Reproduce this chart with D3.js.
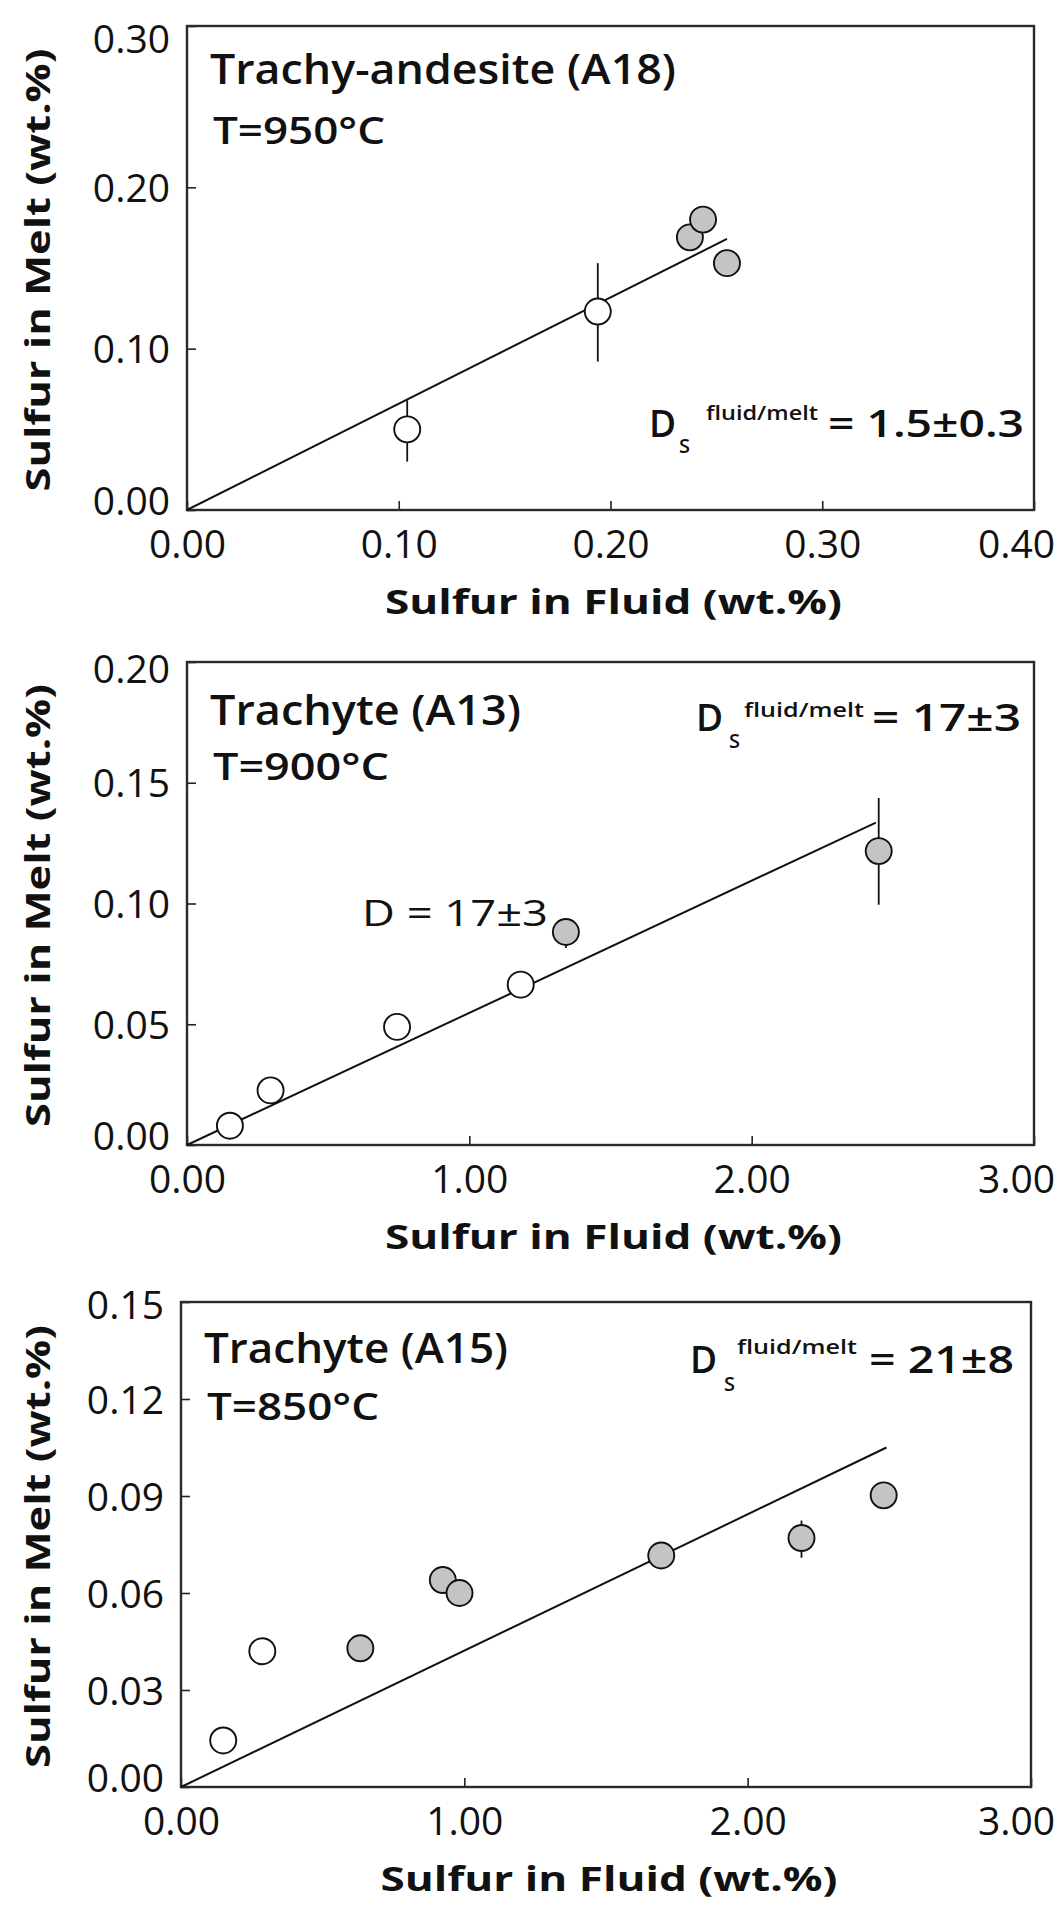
<!DOCTYPE html>
<html><head><meta charset="utf-8">
<script src="https://cdn.jsdelivr.net/npm/d3@7"></script>
<style>body{margin:0;background:#fff}svg{display:block}</style>
</head><body><svg id="c" width="1060" height="1909"></svg>
<script>
// ---------- DATA ----------
// Panel A18 (Trachy-andesite, 950 C)
const a18Fluid   = [0.104, 0.194, 0.2375, 0.2437, 0.255];
const a18Melt    = [0.050, 0.123, 0.169, 0.180, 0.153];
const a18Kind    = ["open","open","gray","gray","gray"];
const a18ErrLow  = [0.030, 0.092, null, null, null];
const a18ErrHigh = [0.068, 0.153, null, null, null];
const a18FitX    = [0, 0.255];
const a18FitY    = [0, 0.168];
const a18XTicks  = [0, 0.1, 0.2, 0.3, 0.4];
const a18XLabels = ["0.00","0.10","0.20","0.30","0.40"];
const a18YTicks  = [0, 0.1, 0.2, 0.3];
const a18YLabels = ["0.00","0.10","0.20","0.30"];

// Panel A13 (Trachyte, 900 C)
const a13Fluid   = [0.152, 0.296, 0.744, 1.182, 1.342, 2.45];
const a13Melt    = [0.008, 0.0226, 0.0489, 0.0664, 0.0882, 0.1217];
const a13Kind    = ["open","open","open","open","gray","gray"];
const a13ErrLow  = [null, null, null, null, 0.0816, 0.0995];
const a13ErrHigh = [null, null, null, null, 0.0913, 0.1437];
const a13FitX    = [0, 2.44];
const a13FitY    = [0, 0.1335];
const a13XTicks  = [0, 1, 2, 3];
const a13XLabels = ["0.00","1.00","2.00","3.00"];
const a13YTicks  = [0, 0.05, 0.10, 0.15, 0.20];
const a13YLabels = ["0.00","0.05","0.10","0.15","0.20"];

// Panel A15 (Trachyte, 850 C)
const a15Fluid   = [0.149, 0.287, 0.633, 0.924, 0.983, 1.695, 2.19, 2.48];
const a15Melt    = [0.0144, 0.0420, 0.0429, 0.0640, 0.0600, 0.0716, 0.0770, 0.0902];
const a15Kind    = ["open","open","gray","gray","gray","gray","gray","gray"];
const a15ErrLow  = [null, null, null, null, null, null, 0.0709, null];
const a15ErrHigh = [null, null, null, null, null, null, 0.0824, null];
const a15FitX    = [0, 2.49];
const a15FitY    = [0, 0.105];
const a15XTicks  = [0, 1, 2, 3];
const a15XLabels = ["0.00","1.00","2.00","3.00"];
const a15YTicks  = [0, 0.03, 0.06, 0.09, 0.12, 0.15];
const a15YLabels = ["0.00","0.03","0.06","0.09","0.12","0.15"];

const xTitle = "Sulfur in Fluid (wt.%)";
const yTitle = "Sulfur in Melt (wt.%)";
const panelNames  = ["Trachy-andesite (A18)", "Trachyte (A13)", "Trachyte (A15)"];
const panelTemps  = ["T=950°C", "T=900°C", "T=850°C"];
const dValues     = ["= 1.5±0.3", "= 17±3", "= 21±8"];
const noteText    = "D = 17±3";

// ---------- LAYOUT ----------
const FONT = "'Open Sans', 'Noto Sans', sans-serif";
const svg = d3.select("#c");

const panels = [
  { box:{l:187, r:1034, t:26, b:510}, xMax:0.4, yMax:0.3,
    fluid:a18Fluid, melt:a18Melt, kind:a18Kind, lo:a18ErrLow, hi:a18ErrHigh,
    fitX:a18FitX, fitY:a18FitY, xt:a18XTicks, xl:a18XLabels, yt:a18YTicks, yl:a18YLabels,
    topLblOff:12, nameOff:58, nameW:466, tempW:172,
    d:{dx:649, base:437, subx:679, subBase:453, supx:706, supBase:420, supW:112, eqx:828, eqW:196} },
  { box:{l:187, r:1034, t:662, b:1145}, xMax:3, yMax:0.2,
    fluid:a13Fluid, melt:a13Melt, kind:a13Kind, lo:a13ErrLow, hi:a13ErrHigh,
    fitX:a13FitX, fitY:a13FitY, xt:a13XTicks, xl:a13XLabels, yt:a13YTicks, yl:a13YLabels,
    topLblOff:6, nameOff:63, nameW:311, tempW:176,
    d:{dx:696, base:731, subx:729, subBase:748, supx:744, supBase:717, supW:120, eqx:872, eqW:149},
    note:{x:362, base:926, w:186} },
  { box:{l:181, r:1031, t:1302, b:1787}, xMax:3, yMax:0.15,
    fluid:a15Fluid, melt:a15Melt, kind:a15Kind, lo:a15ErrLow, hi:a15ErrHigh,
    fitX:a15FitX, fitY:a15FitY, xt:a15XTicks, xl:a15XLabels, yt:a15YTicks, yl:a15YLabels,
    topLblOff:2, nameOff:61, nameW:304, tempW:172,
    d:{dx:690, base:1373, subx:724, subBase:1391, supx:737, supBase:1354, supW:120, eqx:869, eqW:145} }
];

panels.forEach((p, i) => {
  const B = p.box;
  const x = d3.scaleLinear().domain([0, p.xMax]).range([B.l, B.r]);
  const y = d3.scaleLinear().domain([0, p.yMax]).range([B.b, B.t]);
  const g = svg.append("g");

  // x axis (inward ticks)
  const xa = g.append("g").attr("transform", `translate(0,${B.b})`)
    .call(d3.axisBottom(x).tickValues(p.xt).tickFormat((d,k)=>p.xl[k])
      .tickSizeInner(-9).tickSizeOuter(0).tickPadding(0));
  xa.select(".domain").remove();
  xa.selectAll("line").attr("stroke","#222").attr("stroke-width",1.6);
  xa.selectAll("text").attr("font-family",FONT).attr("font-size",39).attr("fill","#111")
    .attr("dy",null).attr("y",48)
    .attr("transform", function(d){ const cx = x(d); const c = Math.min(cx, 1016); return `translate(${c-cx},0)`; });

  // y axis (inward ticks)
  const ya = g.append("g").attr("transform", `translate(${B.l},0)`)
    .call(d3.axisLeft(y).tickValues(p.yt).tickFormat((d,k)=>p.yl[k])
      .tickSizeInner(-9).tickSizeOuter(0).tickPadding(17));
  ya.select(".domain").remove();
  ya.selectAll("line").attr("stroke","#222").attr("stroke-width",1.6);
  ya.selectAll("text").attr("font-family",FONT).attr("font-size",39).attr("fill","#111")
    .attr("dy","0.36em")
    .attr("transform", function(d){
      if (d === p.yt[0]) return "translate(0,-10)";
      if (d === p.yt[p.yt.length-1]) return `translate(0,${p.topLblOff})`;
      return null; });

  // box
  g.append("rect").attr("x",B.l).attr("y",B.t).attr("width",B.r-B.l).attr("height",B.b-B.t)
    .attr("fill","none").attr("stroke","#2a2a2a").attr("stroke-width",2.4);

  // fit line
  g.append("line").attr("x1",x(p.fitX[0])).attr("y1",y(p.fitY[0]))
    .attr("x2",x(p.fitX[1])).attr("y2",y(p.fitY[1]))
    .attr("stroke","#111").attr("stroke-width",2);

  // error bars
  const idx = d3.range(p.fluid.length);
  g.selectAll(".eb").data(idx.filter(k => p.lo[k] !== null)).enter().append("line")
    .attr("x1",k=>x(p.fluid[k])).attr("x2",k=>x(p.fluid[k]))
    .attr("y1",k=>y(p.lo[k])).attr("y2",k=>y(p.hi[k]))
    .attr("stroke","#111").attr("stroke-width",1.8);

  // points
  g.selectAll(".pt").data(idx).enter().append("circle")
    .attr("cx",k=>x(p.fluid[k])).attr("cy",k=>y(p.melt[k])).attr("r",13)
    .attr("fill",k=>p.kind[k]==="gray" ? "#c4c4c4" : "#fff")
    .attr("stroke","#111").attr("stroke-width",1.9);

  // panel name and temperature
  g.append("text").attr("x",B.l+23).attr("y",B.t + p.nameOff)
    .attr("font-family",FONT).attr("font-weight",600).attr("font-size",41).attr("fill","#111")
    .attr("textLength",p.nameW).attr("lengthAdjust","spacingAndGlyphs").text(panelNames[i]);
  g.append("text").attr("x",B.l+26).attr("y",B.t + 118)
    .attr("font-family",FONT).attr("font-weight",600).attr("font-size",38).attr("fill","#111")
    .attr("textLength",p.tempW).attr("lengthAdjust","spacingAndGlyphs").text(panelTemps[i]);

  // D label
  const D = p.d;
  g.append("text").attr("x",D.dx).attr("y",D.base).attr("font-family",FONT).attr("font-weight",600)
    .attr("font-size",37).attr("fill","#111").text("D");
  g.append("text").attr("x",D.subx).attr("y",D.subBase).attr("font-family",FONT).attr("font-weight",600)
    .attr("font-size",20).attr("fill","#111").text("S");
  g.append("text").attr("x",D.supx).attr("y",D.supBase).attr("font-family",FONT).attr("font-weight",600)
    .attr("font-size",19).attr("fill","#111")
    .attr("textLength",D.supW).attr("lengthAdjust","spacingAndGlyphs").text("fluid/melt");
  g.append("text").attr("x",D.eqx).attr("y",D.base).attr("font-family",FONT).attr("font-weight",600)
    .attr("font-size",37).attr("fill","#111")
    .attr("textLength",D.eqW).attr("lengthAdjust","spacingAndGlyphs").text(dValues[i]);

  if (p.note) {
    g.append("text").attr("x",p.note.x).attr("y",p.note.base).attr("font-family",FONT)
      .attr("font-size",37).attr("fill","#111")
      .attr("textLength",p.note.w).attr("lengthAdjust","spacingAndGlyphs").text(noteText);
  }

  // axis titles
  g.append("text").attr("x",(B.l+B.r)/2 + 3).attr("y",B.b + 104).attr("text-anchor","middle")
    .attr("font-family",FONT).attr("font-weight",700).attr("font-size",34).attr("fill","#111")
    .attr("textLength",457).attr("lengthAdjust","spacingAndGlyphs").text(xTitle);
  g.append("text").attr("transform",`translate(50,${(B.t+B.b)/2 + 2}) rotate(-90)`).attr("text-anchor","middle")
    .attr("font-family",FONT).attr("font-weight",700).attr("font-size",34).attr("fill","#111")
    .attr("textLength",443).attr("lengthAdjust","spacingAndGlyphs").text(yTitle);
});
</script></body></html>
